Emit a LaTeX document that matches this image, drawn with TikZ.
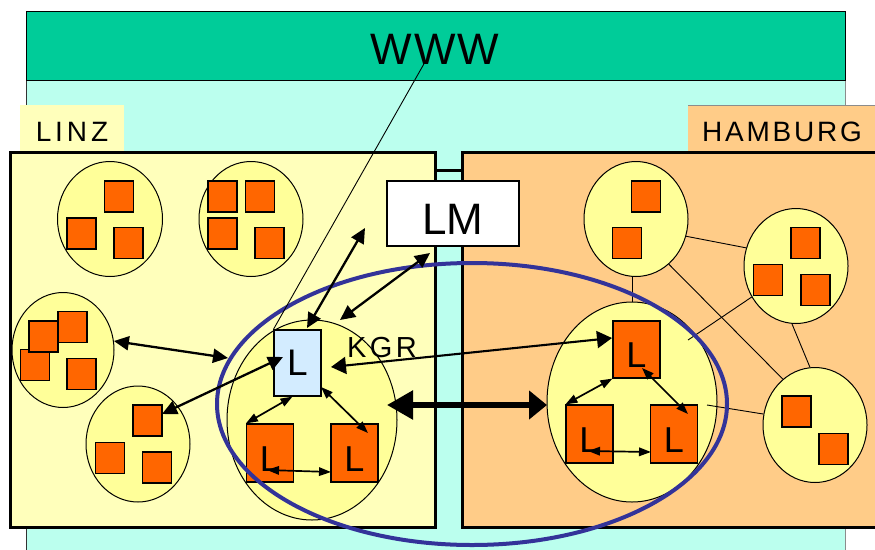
\documentclass[tikz,border=0pt]{standalone}
\usepackage{fontspec}
\setmainfont{Liberation Sans}
\usetikzlibrary{arrows.meta,shapes.geometric}
\definecolor{wwwgreen}{HTML}{00CC99}
\definecolor{cyanbg}{HTML}{BBFFEE}
\definecolor{linzfill}{HTML}{FFFFBB}
\definecolor{circfill}{HTML}{FFFF99}
\definecolor{sqfill}{HTML}{FF6600}
\definecolor{hamfill}{HTML}{FFCC88}
\definecolor{lblue}{HTML}{D3ECFF}
\definecolor{ellblue}{HTML}{333399}
\begin{document}
\begin{tikzpicture}[x=1pt,y=-1pt,
  labelfont/.style={font=\fontsize{28}{30}\selectfont\addfontfeature{LetterSpace=#1}, inner sep=0pt},
  bigfont/.style={font=\fontsize{44}{46}\selectfont\addfontfeature{LetterSpace=4}, inner sep=0pt},
  cell/.style={ellipse, draw, line width=1pt, fill=circfill, inner sep=0pt},
  sqbox/.style={draw, line width=1.2pt, fill=sqfill, minimum width=29pt, minimum height=31pt, inner sep=0pt},
  lorange/.style={draw, line width=1.2pt, fill=sqfill, minimum width=47pt, minimum height=58pt, inner sep=0pt,
     font=\fontsize{36}{36}\selectfont, text height=36pt, text depth=0pt},
  lbluebox/.style={draw, line width=1.2pt, fill=lblue, minimum width=47pt, minimum height=66pt, inner sep=0pt,
     font=\fontsize{37}{37}\selectfont},
  lmbox/.style={draw, line width=1.2pt, fill=white, minimum width=132pt, minimum height=65pt, inner sep=0pt,
     font=\fontsize{44}{44}\selectfont, text height=41pt, text depth=0pt},
  marr/.style={line width=2.3pt, {Triangle[length=15pt,width=14pt]}-{Triangle[length=15pt,width=14pt]}},
  larr/.style={line width=2.1pt, {Triangle[length=15pt,width=17pt]}-{Triangle[length=15pt,width=17pt]}},
  sarr/.style={line width=1.7pt, {Triangle[length=12pt,width=8.5pt]}-{Triangle[length=12pt,width=8.5pt]}},
  tarr/.style={line width=5.5pt, {Triangle[length=26pt,width=28pt]}-{Triangle[length=18pt,width=28pt]}},
  thin link/.style={line width=0.9pt}
]
\useasboundingbox (0,0) rectangle (875,549);
\clip (0,0) rectangle (875,549);
\fill[white] (0,0) rectangle (875,549);
% background regions
\fill[cyanbg] (26,80) rectangle (845,560);
\draw[line width=0.8pt, black!80] (26,80) -- (26,560);
\draw[line width=0.8pt, black!45] (845,80) -- (845,560);
\draw[fill=wwwgreen, line width=1pt] (26,11) rectangle (845,80);
\node[bigfont] (www) at (435,49) {WWW};
\fill[linzfill] (20,105) rectangle (124,151);
\node[labelfont=14] (linzlabel) at (72,132) {LINZ};
\fill[hamfill] (688,105) rectangle (885,151);
\draw[line width=0.8pt, black!45] (688,105) -- (885,105);
\node[labelfont=10] (hamlabel) at (782,132) {HAMBURG};
\draw[line width=3pt, fill=linzfill] (10,152) rectangle (435,527);
\draw[line width=3pt, fill=hamfill] (462,152) rectangle (895,527);
\draw[line width=3pt] (435,170) -- (462,170);
% LINZ cells
\node[cell, minimum width=105pt, minimum height=115pt] (c1) at (110,219) {};
\node[sqbox] (c1a) at (119,196.5) {};
\node[sqbox] (c1b) at (81.5,233.5) {};
\node[sqbox] (c1c) at (128.5,243) {};
\node[cell, minimum width=104pt, minimum height=115pt] (c2) at (251,219) {};
\node[sqbox] (c2a) at (222.5,196.5) {};
\node[sqbox] (c2b) at (260,196.5) {};
\node[sqbox] (c2c) at (222.5,233.5) {};
\node[sqbox] (c2d) at (269.5,243) {};
\node[cell, minimum width=102pt, minimum height=115pt] (c3) at (63,350) {};
\node[sqbox] (c3a) at (35,365) {};
\node[sqbox] (c3b) at (72.5,327) {};
\node[sqbox] (c3c) at (43.5,336.5) {};
\node[sqbox] (c3d) at (81.5,374) {};
\node[cell, minimum width=104pt, minimum height=116pt] (c4) at (138,444) {};
\node[sqbox] (c4a) at (147.5,420.5) {};
\node[sqbox] (c4b) at (110,458) {};
\node[sqbox] (c4c) at (157,467.5) {};
\node[cell, minimum width=170pt, minimum height=200pt] (lkgr) at (312,420) {};
% HAMBURG links and cells
\coordinate (hk1) at (688,340);
\coordinate (hk2) at (707,405);
\node[cell, minimum width=104pt, minimum height=115pt] (h1) at (636,219) {};
\node[cell, minimum width=104pt, minimum height=115pt] (h2) at (796,266) {};
\node[cell, minimum width=104pt, minimum height=115pt] (h3) at (815,425) {};
\node[cell, minimum width=170pt, minimum height=200pt] (hkgr) at (632,402) {};
\draw[thin link] (h1.-19) -- (h2.160);
\draw[thin link] (h1.-54) -- (h3.125);
\draw[thin link] (h1.south -| hkgr.north) -- (hkgr.north);
\draw[thin link] (h2.-94) -- (h3.95);
\draw[thin link] (h2.215) -- (hk1);
\draw[thin link] (hk2) -- (h3.168);
\node[sqbox] (h1a) at (646,196.5) {};
\node[sqbox] (h1b) at (627,243) {};
\node[sqbox] (h2a) at (805.5,243) {};
\node[sqbox] (h2b) at (768,280) {};
\node[sqbox] (h2c) at (815.5,290) {};
\node[sqbox] (h3a) at (796.5,411.5) {};
\node[sqbox] (h3b) at (833.5,449) {};
% KGR contents
\node[lbluebox] (lb) at (297.5,363) {L};
\node[lorange] (lbl) at (270,453) {L};
\node[lorange] (lbr) at (354.5,453) {L};
\node[lorange, minimum height=57pt] (ht) at (636.5,349.5) {L};
\node[lorange] (hbl) at (589.5,434) {L};
\node[lorange] (hbr) at (674,434) {L};
\node[labelfont=12, font=\fontsize{29}{30}\selectfont\addfontfeature{LetterSpace=12}] (kgr) at (382,348) {KGR};
\node[lmbox] (lm) at (453,213.5) {LM};
% blue ellipse
\draw[ellblue, line width=4pt] (472,404) ellipse [x radius=255pt, y radius=141pt];
% connectors
\coordinate (wwwv) at (425,62);
\draw[thin link] (wwwv) -- (lb.north west);
\coordinate (a2a) at (307,328);
\coordinate (a2b) at (365,228);
\draw[marr] (a2a) -- (a2b);
\coordinate (a3a) at (340,320);
\coordinate (a3b) at (430,253);
\draw[marr] (a3a) -- (a3b);
\coordinate (a4b) at (228,358);
\draw[marr] (c3.10) -- (a4b);
\coordinate (a5a) at (283,357);
\coordinate (a5b) at (162,414);
\draw[marr] (a5a) -- (a5b);
\coordinate (a6a) at (331,367);
\coordinate (a6b) at (612,338);
\draw[larr] (a6a) -- (a6b);
\coordinate (a7a) at (387,405);
\coordinate (a7b) at (547,405);
\draw[tarr] (a7a) -- (a7b);
\draw[sarr] ([xshift=-5pt]lb.south) -- (lbl.north west);
\coordinate (a9a) at (321,387);
\coordinate (a9b) at (368,433);
\draw[sarr] (a9a) -- (a9b);
\coordinate (a10a) at (267,470);
\coordinate (a10b) at (331,472);
\draw[sarr] (a10a) -- (a10b);
\draw[sarr] (ht.south west) -- (hbl.north west);
\coordinate (a12a) at (642,368);
\coordinate (a12b) at (688,414);
\draw[sarr] (a12a) -- (a12b);
\coordinate (a13a) at (588,451);
\coordinate (a13b) at (651,452);
\draw[sarr] (a13a) -- (a13b);
\end{tikzpicture}
\end{document}
